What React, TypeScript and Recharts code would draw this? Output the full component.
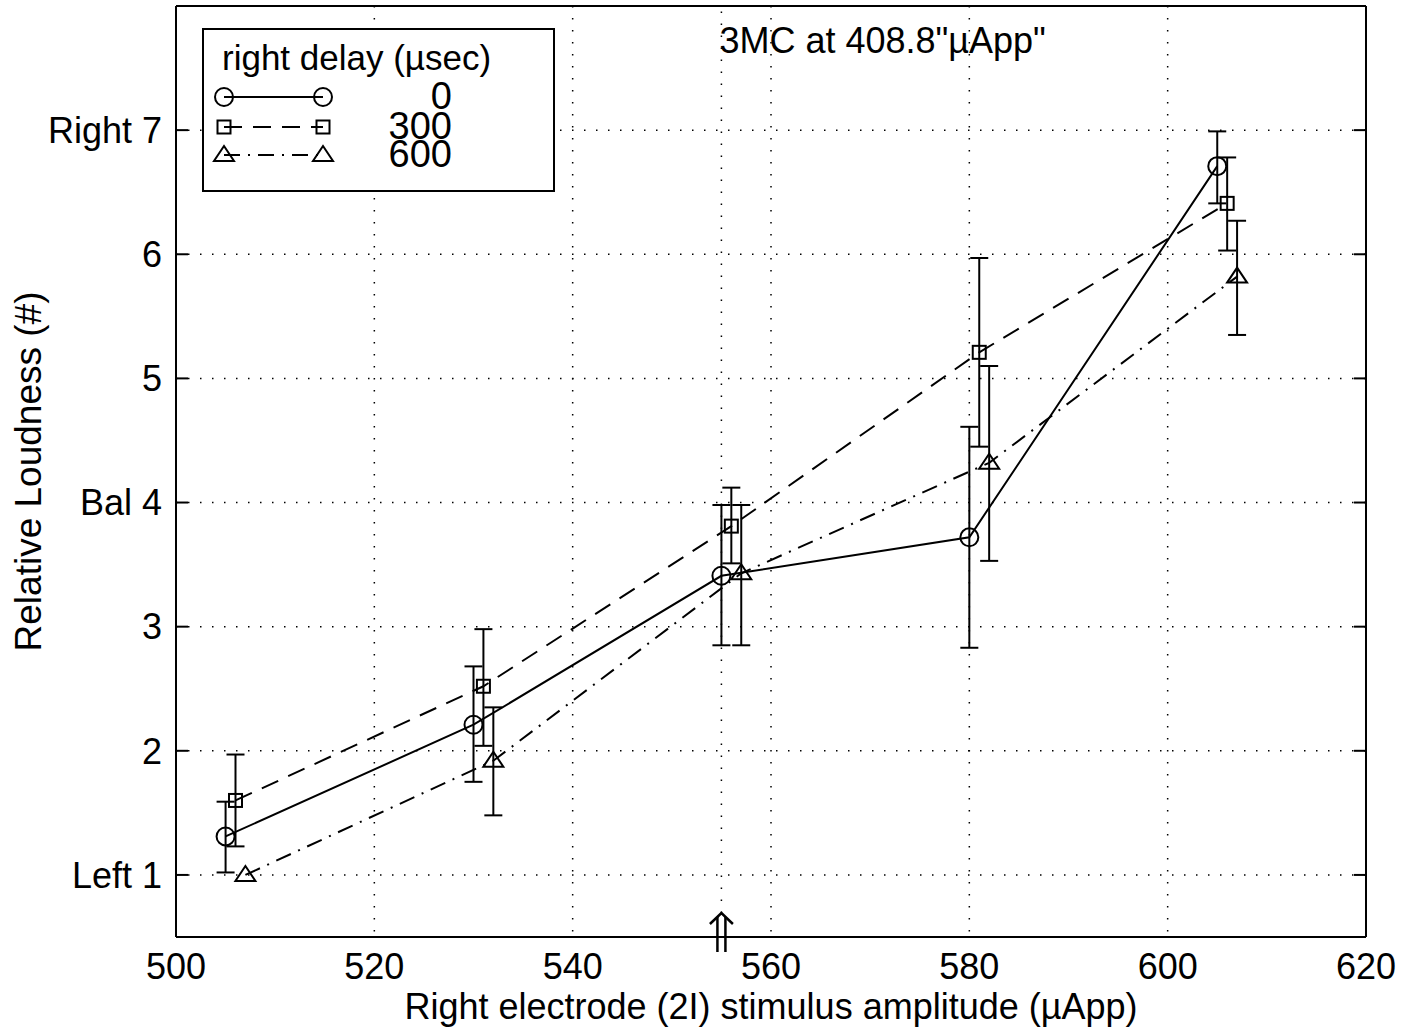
import React from 'react';
import {
  ScatterChart,
  Scatter,
  XAxis,
  YAxis,
  CartesianGrid,
  ErrorBar,
  ReferenceLine,
  Legend,
} from 'recharts';

const FONT = '"Liberation Sans", Arial, Helvetica, sans-serif';

// ---- text ----
const titleText = '3MC at 408.8"\u00b5App"';
const xAxisTitle = 'Right electrode (2I) stimulus amplitude (\u00b5App)';
const yAxisTitle = 'Relative Loudness (#)';
const legendTitle = 'right delay (\u00b5sec)';

// ---- ticks ----
const xTicks = [500, 520, 540, 560, 580, 600, 620];
const yTicks = [1, 2, 3, 4, 5, 6, 7];
const yTickLabels = ['Left 1', '2', '3', 'Bal 4', '5', '6', 'Right 7'];
const markerAmplitude = 555;

// ---- series ----
const delays = ['0', '300', '600'];

const xDelay0 = [505, 530, 555, 580, 605];
const yDelay0 = [1.31, 2.21, 3.41, 3.72, 6.71];
const loDelay0 = [1.02, 1.75, 2.85, 2.83, 6.41];
const hiDelay0 = [1.59, 2.68, 3.98, 4.61, 6.99];

const xDelay300 = [506, 531, 556, 581, 606];
const yDelay300 = [1.6, 2.52, 3.81, 5.21, 6.41];
const loDelay300 = [1.23, 2.04, 3.51, 4.45, 6.03];
const hiDelay300 = [1.97, 2.98, 4.12, 5.97, 6.78];

const xDelay600 = [507, 532, 557, 582, 607];
const yDelay600 = [1.0, 1.92, 3.43, 4.32, 5.82];
const loDelay600 = [1.0, 1.48, 2.85, 3.53, 5.35];
const hiDelay600 = [1.0, 2.35, 3.98, 5.1, 6.27];

function makeRows(xs: number[], ys: number[], lo: number[], hi: number[]) {
  return xs.map((x, i) => {
    const dl = +(ys[i] - lo[i]).toFixed(3);
    const dh = +(hi[i] - ys[i]).toFixed(3);
    return { x, y: ys[i], err: dl === 0 && dh === 0 ? null : [dl, dh] };
  });
}

const series = [
  { name: delays[0], kind: 'circle', dash: undefined as string | undefined, rows: makeRows(xDelay0, yDelay0, loDelay0, hiDelay0) },
  { name: delays[1], kind: 'square', dash: '18 11', rows: makeRows(xDelay300, yDelay300, loDelay300, hiDelay300) },
  { name: delays[2], kind: 'triangle', dash: '16 8 2 8', rows: makeRows(xDelay600, yDelay600, loDelay600, hiDelay600) },
];

function Marker({ kind, cx, cy }: { kind: string; cx?: number; cy?: number }) {
  if (cx == null || cy == null || isNaN(cx) || isNaN(cy)) return null;
  const common = { fill: 'none', stroke: '#000', strokeWidth: 2 };
  if (kind === 'circle') return <circle cx={cx} cy={cy} r={9} {...common} />;
  if (kind === 'square') return <rect x={cx - 6.5} y={cy - 6.5} width={13} height={13} {...common} />;
  return <polygon points={`${cx},${cy - 9} ${cx - 10},${cy + 6} ${cx + 10},${cy + 6}`} {...common} />;
}

function LegendBox() {
  const rowStyle = [
    { cy: 69, ty: 81 },
    { cy: 99, ty: 111 },
    { cy: 127, ty: 139 },
  ];
  return (
    <svg width={356} height={166} style={{ display: 'block', overflow: 'visible' }}>
      <rect x={1} y={1} width={351} height={162} fill="#fff" stroke="#000" strokeWidth={2} />
      <text x={20} y={42} fontFamily={FONT} fontSize={35} fill="#000">
        {legendTitle}
      </text>
      {series.map((s, i) => (
        <g key={s.name}>
          <line x1={22} x2={121} y1={rowStyle[i].cy} y2={rowStyle[i].cy} stroke="#000" strokeWidth={2} strokeDasharray={s.dash} />
          <Marker kind={s.kind} cx={22} cy={rowStyle[i].cy} />
          <Marker kind={s.kind} cx={121} cy={rowStyle[i].cy} />
          <text x={250} y={rowStyle[i].ty} textAnchor="end" fontFamily={FONT} fontSize={38} fill="#000">
            {s.name}
          </text>
        </g>
      ))}
    </svg>
  );
}

function XTitle(props: any) {
  const vb = props.viewBox || {};
  return (
    <text x={vb.x + vb.width / 2} y={vb.y + 82} textAnchor="middle" fontFamily={FONT} fontSize={36} fill="#000">
      {xAxisTitle}
    </text>
  );
}

function YTitle(props: any) {
  const vb = props.viewBox || {};
  const cx = 41;
  const cy = vb.y + vb.height / 2;
  return (
    <text x={cx} y={cy} transform={`rotate(-90 ${cx} ${cy})`} textAnchor="middle" fontFamily={FONT} fontSize={37} fill="#000">
      {yAxisTitle}
    </text>
  );
}

function MarkerLineLabel(props: any) {
  const vb = props.viewBox || {};
  const x = vb.x;
  const bottom = vb.y + vb.height;
  const top = vb.y;
  return (
    <g>
      <text x={x - 2} y={top + 47} fontFamily={FONT} fontSize={36} fill="#000">
        {titleText}
      </text>
      <rect x={x - 12} y={bottom - 24} width={24} height={40} fill="#fff" />
      <polyline points={`${x - 11.5},${bottom - 13} ${x},${bottom - 24} ${x + 11.5},${bottom - 13}`} fill="none" stroke="#000" strokeWidth={2.5} />
      <line x1={x - 4} x2={x - 4} y1={bottom - 20} y2={bottom + 15} stroke="#000" strokeWidth={2.5} />
      <line x1={x + 4} x2={x + 4} y1={bottom - 20} y2={bottom + 15} stroke="#000" strokeWidth={2.5} />
    </g>
  );
}

const tickStyle = { fill: '#000', fontSize: 36, fontFamily: FONT };
const frameLine = { stroke: '#000', strokeWidth: 2 };
const noLabel = () => <g />;

export default function App() {
  return (
    <div style={{ position: 'absolute', left: 0, top: 0, background: '#fff' }}>
      <ScatterChart width={1416} height={1027} margin={{ top: 6, right: 50, bottom: 0, left: 0 }}>
        <CartesianGrid stroke="#000" strokeDasharray="1.5 10.5" strokeWidth={1.5} />
        <XAxis
          xAxisId={0}
          type="number"
          dataKey="x"
          domain={[500, 620]}
          ticks={xTicks}
          interval={0}
          allowDataOverflow
          height={90}
          tickLine={false}
          tickSize={0}
          tickMargin={16}
          axisLine={frameLine}
          tick={tickStyle}
          label={<XTitle />}
        />
        <XAxis xAxisId="xb" type="number" domain={[500, 620]} ticks={xTicks} interval={0} allowDataOverflow mirror height={20} tick={noLabel} tickSize={12} tickLine={frameLine} axisLine={false} />
        <XAxis xAxisId="xt" orientation="top" type="number" domain={[500, 620]} ticks={xTicks} interval={0} allowDataOverflow mirror height={20} tick={noLabel} tickSize={12} tickLine={frameLine} axisLine={frameLine} />
        <YAxis
          yAxisId={0}
          type="number"
          dataKey="y"
          domain={[0.5, 8]}
          ticks={yTicks}
          interval={0}
          allowDataOverflow
          width={176}
          tickLine={false}
          tickSize={0}
          tickMargin={14}
          axisLine={frameLine}
          tick={tickStyle}
          tickFormatter={(v: number) => yTickLabels[yTicks.indexOf(v)] ?? String(v)}
          label={<YTitle />}
        />
        <YAxis yAxisId="yl" type="number" domain={[0.5, 8]} ticks={yTicks} interval={0} allowDataOverflow mirror width={20} tick={noLabel} tickSize={12} tickLine={frameLine} axisLine={false} />
        <YAxis yAxisId="yr" orientation="right" type="number" domain={[0.5, 8]} ticks={yTicks} interval={0} allowDataOverflow mirror width={20} tick={noLabel} tickSize={12} tickLine={frameLine} axisLine={frameLine} />
        <ReferenceLine x={markerAmplitude} stroke="#000" strokeWidth={1.5} strokeDasharray="1.5 10.5" label={<MarkerLineLabel />} />
        {series.map((s) => (
          <Scatter
            key={s.name}
            name={s.name}
            data={s.rows}
            isAnimationActive={false}
            line={{ stroke: '#000', strokeWidth: 2, strokeDasharray: s.dash }}
            lineType="joint"
            shape={(p: any) => <Marker kind={s.kind} cx={p.cx} cy={p.cy} />}
          >
            <ErrorBar dataKey="err" direction="y" width={9} stroke="#000" strokeWidth={2} isAnimationActive={false} />
          </Scatter>
        ))}
        <Legend
          layout="vertical"
          align="center"
          verticalAlign="middle"
          wrapperStyle={{ left: 202, top: 28, width: 356, height: 166, margin: 0, padding: 0 }}
          content={() => <LegendBox />}
        />
      </ScatterChart>
    </div>
  );
}
